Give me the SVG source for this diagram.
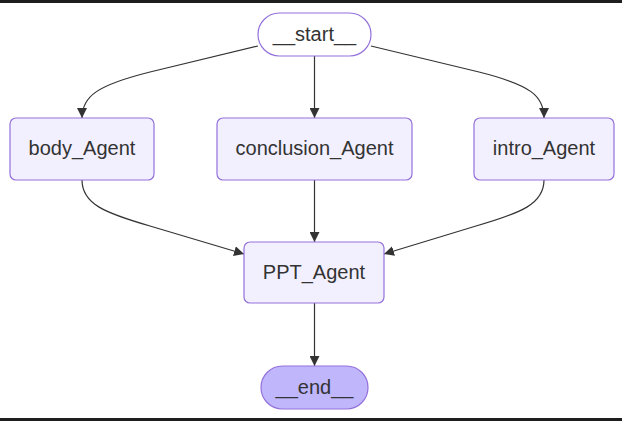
<svg xmlns="http://www.w3.org/2000/svg" width="622" height="421" viewBox="0 0 622 421">
<defs>
<style>
.node rect{fill:#f2f0ff;stroke:#9370db;stroke-width:1.2}
.node.first rect{fill:#ffffff}
.node.last rect{fill:#bfb6fc}
.node text{font-family:"Liberation Sans",Arial,sans-serif;font-size:20px;fill:#333333;text-anchor:middle}
.edge{fill:none;stroke:#333333;stroke-width:1.2;marker-end:url(#arrow)}
</style>
<marker id="arrow" viewBox="0 0 10 10" refX="10" refY="5" markerUnits="userSpaceOnUse" markerWidth="10" markerHeight="10" orient="auto">
<path d="M0,0 L10,5 L0,10 z" fill="#333333"/>
</marker>
</defs>
<rect x="0" y="0" width="622" height="421" fill="#ffffff"/>
<rect x="0" y="0" width="622" height="3" fill="#1e1e1e"/>
<rect x="0" y="418" width="622" height="3" fill="#1e1e1e"/>
<g id="edges">
<path class="edge" d="M258,46 L150,72 C98,85 82,96 82,118"/>
<path class="edge" d="M314.5,56 L314.5,118"/>
<path class="edge" d="M371,46 L479,72 C531,85 544,96 544,118"/>
<path class="edge" d="M82,180 C82,204 105,213 150,226 L244,254"/>
<path class="edge" d="M314.5,180 L314.5,242"/>
<path class="edge" d="M544,180 C544,204 521,213 476,226 L384,254"/>
<path class="edge" d="M314.5,303 L314.5,366"/>
</g>
<g id="start" class="node first">
<rect x="258" y="13" width="113" height="43" rx="21.5" ry="21.5"/>
<text x="314.5" y="41">__start__</text>
</g>
<g id="body_Agent" class="node">
<rect x="10" y="118" width="144" height="62" rx="6" ry="6"/>
<text x="82" y="155">body_Agent</text>
</g>
<g id="conclusion_Agent" class="node">
<rect x="217" y="118" width="195" height="62" rx="6" ry="6"/>
<text x="314.5" y="155">conclusion_Agent</text>
</g>
<g id="intro_Agent" class="node">
<rect x="474" y="118" width="140" height="62" rx="6" ry="6"/>
<text x="544" y="155">intro_Agent</text>
</g>
<g id="PPT_Agent" class="node">
<rect x="244" y="242" width="140" height="61" rx="6" ry="6"/>
<text x="314" y="279">PPT_Agent</text>
</g>
<g id="end" class="node last">
<rect x="261" y="366" width="107" height="43" rx="21.5" ry="21.5"/>
<text x="314.5" y="394">__end__</text>
</g>
</svg>
